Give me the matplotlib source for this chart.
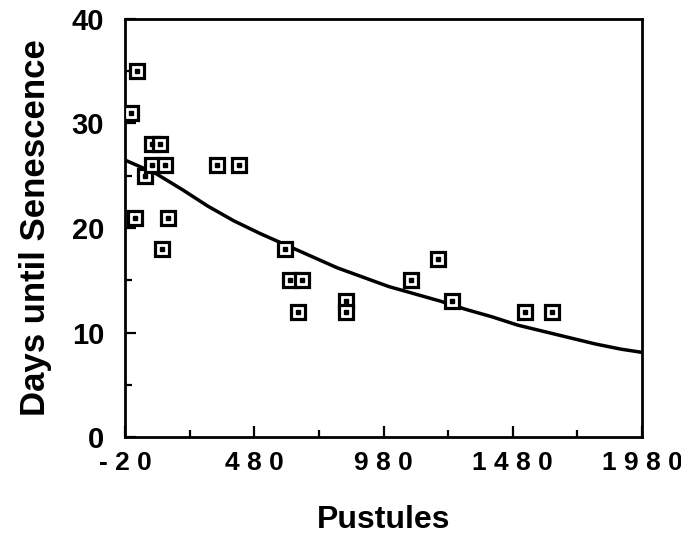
import numpy as np
import matplotlib
matplotlib.use("Agg")
import matplotlib.pyplot as plt
from matplotlib.ticker import MultipleLocator, FixedLocator

# observed points (pustules, days until senescence)
pustules = [26, 3, 19, 57, 84, 115, 84, 135, 146, 123, 336, 421,
            599, 618, 665, 649, 835, 835, 1086, 1191, 1245, 1527, 1632]
days = [35, 31, 21, 25, 28, 28, 26, 26, 21, 18, 26, 26,
        18, 15, 15, 12, 13, 12, 15, 17, 13, 12, 12]

# fitted curve
curve_x = [-20, 100, 200, 300, 400, 500, 600, 700, 800, 900, 1000,
           1100, 1200, 1300, 1400, 1500, 1600, 1700, 1800, 1900, 1980]
curve_y = [26.5, 25.2, 23.7, 22.1, 20.7, 19.5, 18.4, 17.3, 16.2, 15.3, 14.4,
           13.7, 13.0, 12.2, 11.5, 10.7, 10.1, 9.5, 8.9, 8.4, 8.1]

x_ticks = [-20, 480, 980, 1480, 1980]
x_labels = ["- 2 0", "4 8 0", "9 8 0", "1 4 8 0", "1 9 8 0"]
y_ticks = [0, 10, 20, 30, 40]

plt.rcParams['font.family'] = ['Liberation Sans', 'DejaVu Sans']
plt.rcParams['font.weight'] = 'bold'

fig = plt.figure(figsize=(6.81, 5.36), dpi=100)
ax = fig.add_axes([125 / 681, 1 - 437 / 536, 517 / 681, 418 / 536])

ax.plot(curve_x, curve_y, color='black', lw=2.5, zorder=2)
ax.plot(pustules, days, linestyle='none', marker='s', markersize=9.5,
        markerfacecolor='white', markeredgecolor='black', markeredgewidth=2.3,
        zorder=3)
ax.plot(pustules, days, linestyle='none', marker='s', markersize=2.2,
        color='black', zorder=4)

ax.set_xlim(-20, 1980)
ax.set_ylim(0, 40)
ax.xaxis.set_major_locator(FixedLocator(x_ticks))
ax.xaxis.set_minor_locator(FixedLocator([230, 730, 1230, 1730]))
ax.set_xticklabels(x_labels)
ax.yaxis.set_major_locator(FixedLocator(y_ticks))
ax.yaxis.set_minor_locator(MultipleLocator(5))

ax.tick_params(which='both', direction='in', width=1.6, colors='black')
ax.tick_params(which='major', length=8)
ax.tick_params(which='minor', length=5)
ax.tick_params(axis='y', which='major', labelsize=21, pad=15)
ax.tick_params(axis='x', which='major', labelsize=19, pad=10)
for lab in ax.get_xticklabels() + ax.get_yticklabels():
    lab.set_fontweight('bold')

for sp in ax.spines.values():
    sp.set_linewidth(2.0)

ax.set_xlabel('Pustules', fontsize=23, fontweight='bold', labelpad=22)
ax.set_ylabel('Days until Senescence', fontsize=25, fontweight='bold', labelpad=14)

fig.savefig('out.png', dpi=100)
